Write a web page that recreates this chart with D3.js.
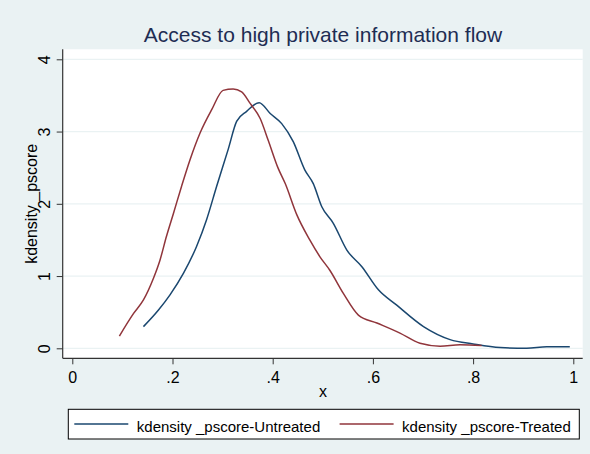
<!DOCTYPE html>
<html>
<head>
<meta charset="utf-8">
<script src="https://cdn.jsdelivr.net/npm/d3@7"></script>
<style>
  body { margin: 0; background: #eaf2f3; }
  svg { display: block; font-family: "Liberation Sans", Arial, sans-serif; }
</style>
</head>
<body>
<svg id="chart"></svg>
<script>
// kernel density of propensity score
const untreatedX = [0.142, 0.172, 0.195, 0.222, 0.248, 0.268, 0.288, 0.311, 0.328, 0.348, 0.373, 0.395, 0.418, 0.441, 0.464, 0.481, 0.498, 0.521, 0.548, 0.578, 0.611, 0.647, 0.701, 0.754, 0.800, 0.854, 0.907, 0.947, 0.993];
const untreatedY = [0.30, 0.53, 0.74, 1.04, 1.41, 1.78, 2.24, 2.75, 3.14, 3.28, 3.40, 3.25, 3.11, 2.86, 2.47, 2.28, 1.96, 1.73, 1.36, 1.13, 0.81, 0.60, 0.30, 0.12, 0.06, 0.01, 0.00, 0.02, 0.02];
const treatedX = [0.094, 0.122, 0.142, 0.162, 0.175, 0.188, 0.202, 0.218, 0.235, 0.255, 0.278, 0.301, 0.321, 0.338, 0.355, 0.375, 0.391, 0.411, 0.425, 0.448, 0.474, 0.494, 0.514, 0.541, 0.571, 0.608, 0.654, 0.694, 0.734, 0.774, 0.817];
const treatedY = [0.17, 0.48, 0.67, 0.97, 1.22, 1.55, 1.87, 2.24, 2.61, 2.98, 3.30, 3.57, 3.59, 3.55, 3.39, 3.18, 2.88, 2.49, 2.28, 1.85, 1.50, 1.27, 1.08, 0.76, 0.46, 0.35, 0.21, 0.07, 0.03, 0.05, 0.04];
const xTicks = [0, 0.2, 0.4, 0.6, 0.8, 1];
const xTickLabels = ["0", ".2", ".4", ".6", ".8", "1"];
const yTicks = [0, 1, 2, 3, 4];
const yTickLabels = ["0", "1", "2", "3", "4"];
const seriesNames = ["kdensity _pscore-Untreated", "kdensity _pscore-Treated"];
const seriesColors = ["#1a476f", "#90353b"];

const width = 590, height = 454;
const plot = { left: 62.7, right: 582.7, top: 49.3, bottom: 358.3 };

const svg = d3.select("#chart").attr("width", width).attr("height", height);

svg.append("rect").attr("width", width).attr("height", height).attr("fill", "#eaf2f3");

// plot region
svg.append("rect")
    .attr("x", plot.left).attr("y", plot.top)
    .attr("width", plot.right - plot.left).attr("height", plot.bottom - plot.top)
    .attr("fill", "#fff");

const x = d3.scaleLinear().domain([0, 1]).range([72.3, 573.3]);
const y = d3.scaleLinear().domain([0, 4]).range([348.3, 59.3]);

// grid
svg.append("g").selectAll("line").data(yTicks).enter().append("line")
    .attr("x1", plot.left).attr("x2", plot.right)
    .attr("y1", d => y(d)).attr("y2", d => y(d))
    .attr("stroke", "#eaf2f3").attr("stroke-width", 1.2);

// title
svg.append("text")
    .attr("x", 323).attr("y", 42)
    .attr("text-anchor", "middle")
    .attr("font-size", "21px")
    .attr("fill", "#1e2d53")
    .text("Access to high private information flow");

// x axis
const xAxis = svg.append("g")
    .attr("transform", "translate(0," + plot.bottom + ")")
    .call(d3.axisBottom(x).tickValues(xTicks).tickSize(6).tickSizeOuter(0)
        .tickFormat((d, i) => xTickLabels[i]));
xAxis.select(".domain").remove();
xAxis.selectAll("text").attr("font-size", "16px").attr("fill", "#000").attr("dy", null).attr("y", 25);
xAxis.selectAll("line").attr("stroke", "#333");

// y axis, labels turned like Stata does
const yAxis = svg.append("g")
    .attr("transform", "translate(" + plot.left + ",0)")
    .call(d3.axisLeft(y).tickValues(yTicks).tickSize(6).tickSizeOuter(0)
        .tickFormat((d, i) => yTickLabels[i]));
yAxis.select(".domain").remove();
yAxis.selectAll("line").attr("stroke", "#333");
yAxis.selectAll("text")
    .attr("font-size", "16px").attr("fill", "#000")
    .attr("x", null).attr("dy", null)
    .attr("text-anchor", "middle")
    .attr("transform", "translate(-13,0) rotate(-90)");

// axis lines
svg.append("line")
    .attr("x1", plot.left).attr("x2", plot.left).attr("y1", plot.top).attr("y2", plot.bottom)
    .attr("stroke", "#333").attr("stroke-width", 1.2);
svg.append("line")
    .attr("x1", plot.left).attr("x2", plot.right).attr("y1", plot.bottom).attr("y2", plot.bottom)
    .attr("stroke", "#333").attr("stroke-width", 1.2);

// axis titles
svg.append("text")
    .attr("x", 323).attr("y", 397)
    .attr("text-anchor", "middle").attr("font-size", "16px")
    .text("x");
svg.append("text")
    .attr("transform", "translate(37," + ((plot.top + plot.bottom) / 2) + ") rotate(-90)")
    .attr("text-anchor", "middle").attr("font-size", "16px")
    .text("kdensity _pscore");

// curves
const line = d3.line()
    .x(d => x(d[0]))
    .y(d => y(d[1]))
    .curve(d3.curveMonotoneX);

const series = [d3.zip(untreatedX, untreatedY), d3.zip(treatedX, treatedY)];

svg.append("g").selectAll("path").data(series).enter().append("path")
    .attr("d", line)
    .attr("fill", "none")
    .attr("stroke", (d, i) => seriesColors[i])
    .attr("stroke-width", 1.5);

// legend
const legend = svg.append("g");
legend.append("rect")
    .attr("x", 68.3).attr("y", 409.3)
    .attr("width", 511).attr("height", 29.7)
    .attr("fill", "#fff").attr("stroke", "#000").attr("stroke-width", 1);

const legendX = [74.3, 339.6];
const items = legend.selectAll("g.item").data(seriesNames).enter().append("g").attr("class", "item");
items.append("line")
    .attr("x1", (d, i) => legendX[i]).attr("x2", (d, i) => legendX[i] + 54)
    .attr("y1", 424).attr("y2", 424)
    .attr("stroke", (d, i) => seriesColors[i]).attr("stroke-width", 1.5);
items.append("text")
    .attr("x", (d, i) => legendX[i] + 62.5)
    .attr("y", 431.5)
    .attr("font-size", "15px")
    .text(d => d);
</script>
</body>
</html>
